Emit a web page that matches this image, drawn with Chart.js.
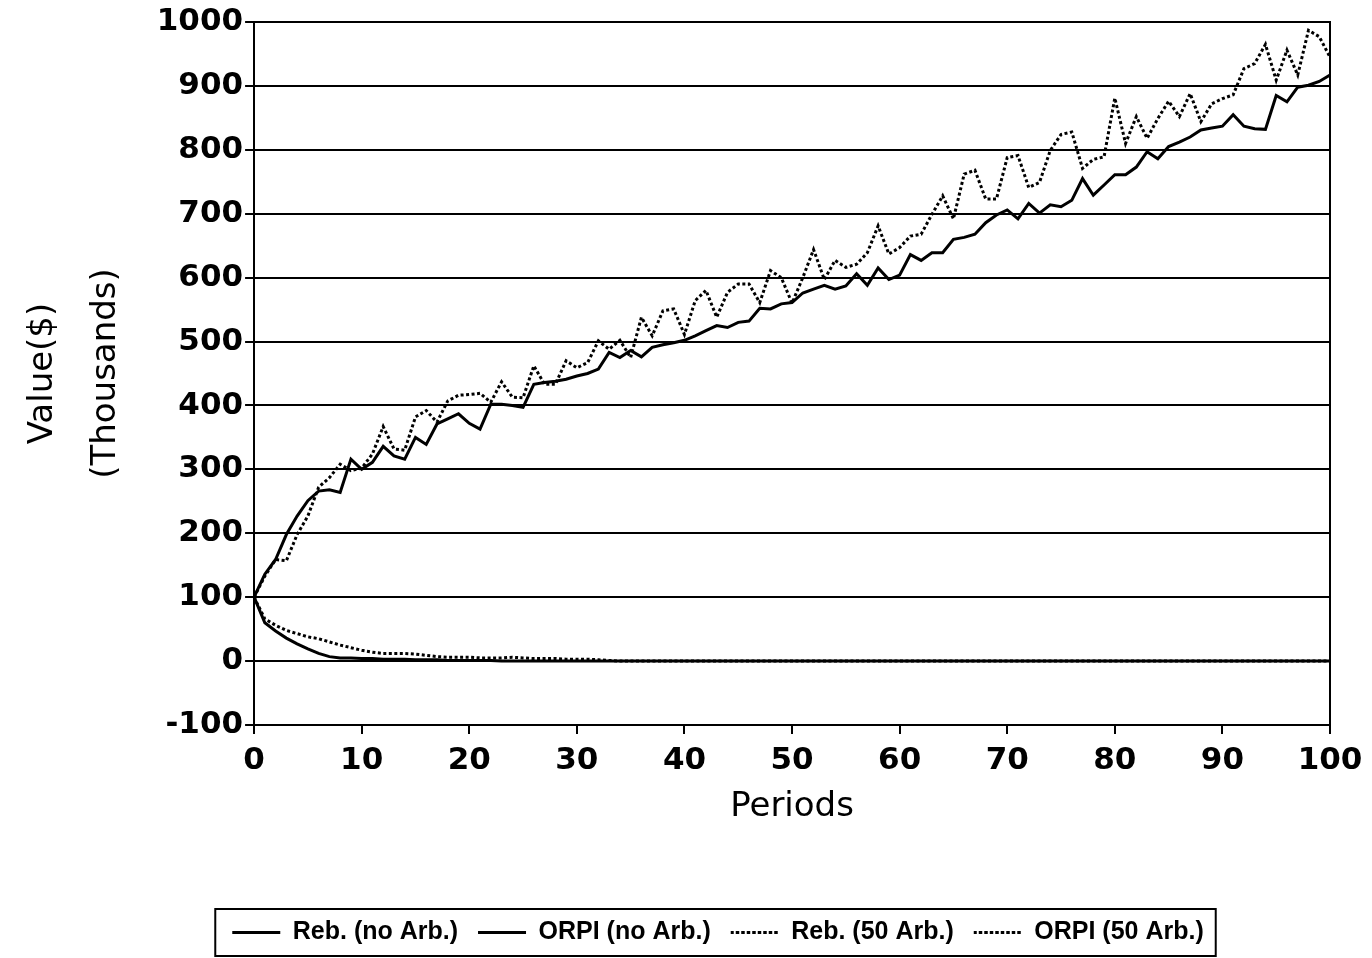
<!DOCTYPE html>
<html>
<head>
<meta charset="utf-8">
<script src="https://cdn.jsdelivr.net/npm/chart.js@4"></script>
<style>
  html, body { margin: 0; padding: 0; background: #fff; }
  #wrap { width: 1372px; height: 958px; }
</style>
</head>
<body>
<div id="wrap"><canvas id="valueChart" width="1372" height="958"></canvas></div>
<script>
// periods on the x axis
const periods = Array.from({ length: 101 }, (_, i) => i);

// portfolio values in thousands of dollars
const rebNoArb = [
  100, 136, 159, 198, 227, 251, 266, 268, 264, 316,
  300, 311, 336, 321, 316, 350, 339, 371, 379, 387,
  372, 363, 402, 402, 400, 397, 433, 436, 438, 441,
  446, 450, 457, 483, 475, 486, 476, 491, 495, 498,
  502, 509, 517, 525, 522, 530, 532, 552, 551, 559,
  561, 576, 582, 588, 582, 587, 606, 588, 615, 597,
  604, 636, 627, 639, 639, 660, 663, 668, 686, 698,
  706, 692, 716, 701, 714, 711, 721, 755, 729, 745,
  761, 761, 773, 797, 786, 805, 812, 820, 831, 834,
  837, 855, 837, 833, 832, 885, 875, 898, 901, 907,
  917
];

const orpiNoArb = [
  100, 60, 47, 36, 27, 19, 12, 7, 5, 5,
  4, 4, 3, 3, 3, 2, 2, 2, 1, 1,
  1, 1, 1, 0, 0, 0, 0, 0, 0, 0,
  0, 0, 0, 0, 0, 0, 0, 0, 0, 0,
  0, 0, 0, 0, 0, 0, 0, 0, 0, 0,
  0, 0, 0, 0, 0, 0, 0, 0, 0, 0,
  0, 0, 0, 0, 0, 0, 0, 0, 0, 0,
  0, 0, 0, 0, 0, 0, 0, 0, 0, 0,
  0, 0, 0, 0, 0, 0, 0, 0, 0, 0,
  0, 0, 0, 0, 0, 0, 0, 0, 0, 0,
  0
];

const reb50Arb = [
  100, 133, 159, 157, 198, 227, 272, 287, 308, 298,
  302, 324, 367, 332, 330, 382, 392, 374, 407, 416,
  417, 419, 405, 437, 413, 412, 462, 433, 433, 470,
  459, 467, 501, 488, 502, 475, 538, 509, 548, 551,
  511, 564, 580, 538, 577, 590, 590, 561, 611, 600,
  560, 600, 644, 597, 627, 616, 621, 639, 681, 637,
  647, 665, 668, 699, 728, 692, 762, 768, 723, 723,
  788, 791, 741, 749, 799, 824, 828, 771, 785, 789,
  881, 810, 852, 818, 849, 876, 852, 888, 844, 872,
  880, 886, 927, 935, 965, 909, 956, 917, 987, 977,
  945
];

const orpi50Arb = [
  100, 66, 56, 48, 43, 38, 35, 30, 25, 21,
  17, 14, 12, 12, 12, 11, 9, 7, 6, 6,
  6, 5, 5, 5, 6, 5, 4, 4, 4, 3,
  3, 3, 2, 1, 0, 0, 0, 0, 0, 0,
  0, 0, 0, 0, 0, 0, 0, 0, 0, 0,
  0, 0, 0, 0, 0, 0, 0, 0, 0, 0,
  0, 0, 0, 0, 0, 0, 0, 0, 0, 0,
  0, 0, 0, 0, 0, 0, 0, 0, 0, 0,
  0, 0, 0, 0, 0, 0, 0, 0, 0, 0,
  0, 0, 0, 0, 0, 0, 0, 0, 0, 0,
  0
];

const yTicks = [-100, 0, 100, 200, 300, 400, 500, 600, 700, 800, 900, 1000];
const xTicks = [0, 10, 20, 30, 40, 50, 60, 70, 80, 90, 100];

const tickFont = { family: 'DejaVu Sans', size: 31, weight: 'bold' };
const titleFont = { family: 'DejaVu Sans', size: 34 };
const legendShift = 47;

function series(label, values, dash) {
  return {
    label: label,
    data: values,
    borderColor: '#000',
    backgroundColor: '#000',
    borderWidth: 3,
    borderDash: dash,
    pointRadius: 0,
    tension: 0,
    fill: false
  };
}

// top and right edges of the plot box
const plotFrame = {
  id: 'plotFrame',
  afterDraw(chart) {
    const { ctx, chartArea: a } = chart;
    ctx.save();
    ctx.strokeStyle = '#000';
    ctx.lineWidth = 2;
    ctx.beginPath();
    ctx.moveTo(a.left, a.top);
    ctx.lineTo(a.right, a.top);
    ctx.lineTo(a.right, a.bottom);
    ctx.stroke();
    ctx.restore();
  }
};

// legend sits a little right of centre, inside a box
const legendBox = {
  id: 'legendBox',
  afterInit(chart) {
    const lg = chart.legend;
    if (!lg) return;
    const draw = lg.draw.bind(lg);
    lg.draw = function () {
      chart.ctx.save();
      chart.ctx.translate(legendShift, 0);
      draw();
      chart.ctx.restore();
    };
  },
  afterDraw(chart) {
    const boxes = chart.legend && chart.legend.legendHitBoxes;
    if (!boxes || !boxes.length) return;
    let l = Infinity, r = -Infinity, t = Infinity, b = -Infinity;
    boxes.forEach(h => {
      l = Math.min(l, h.left); r = Math.max(r, h.left + h.width);
      t = Math.min(t, h.top); b = Math.max(b, h.top + h.height);
    });
    const ctx = chart.ctx;
    ctx.save();
    ctx.strokeStyle = '#000';
    ctx.lineWidth = 2;
    ctx.strokeRect(l - 17 + legendShift, t - 11, (r - l) + 29, (b - t) + 22);
    ctx.restore();
  }
};

new Chart(document.getElementById('valueChart'), {
  type: 'line',
  data: {
    labels: periods,
    datasets: [
      series('Reb. (no Arb.)', rebNoArb, []),
      series('ORPI (no Arb.)', orpiNoArb, []),
      series('Reb. (50 Arb.)', reb50Arb, [3, 2.5]),
      series('ORPI (50 Arb.)', orpi50Arb, [3, 2.5])
    ]
  },
  options: {
    responsive: false,
    devicePixelRatio: 1,
    animation: false,
    layout: { padding: { top: 22, right: 42, bottom: 3, left: 12 } },
    plugins: {
      tooltip: { enabled: false },
      legend: {
        position: 'bottom',
        labels: {
          color: '#000',
          font: { family: 'Liberation Sans', size: 25, weight: 'bold' },
          boxWidth: 48,
          boxHeight: 0,
          padding: 20
        }
      }
    },
    scales: {
      x: {
        type: 'linear',
        min: 0,
        max: 100,
        afterBuildTicks(scale) { scale.ticks = xTicks.map(v => ({ value: v })); },
        ticks: { color: '#000', font: tickFont, maxRotation: 0, padding: 8, callback: v => String(v) },
        grid: { drawOnChartArea: false, drawTicks: true, tickLength: 9, color: '#000', lineWidth: 2 },
        border: { display: true, color: '#000', width: 2 },
        title: { display: true, text: 'Periods', color: '#000', font: titleFont, padding: { top: 0, bottom: 72 } }
      },
      y: {
        min: -100,
        max: 1000,
        afterBuildTicks(scale) { scale.ticks = yTicks.map(v => ({ value: v })); },
        ticks: { color: '#000', font: tickFont, padding: 2, callback: v => String(v) },
        grid: { color: '#000', lineWidth: 2, tickLength: 9 },
        border: { display: true, color: '#000', width: 2 },
        title: {
          display: true,
          text: ['Value($)', '(Thousands)'],
          color: '#000',
          font: { family: 'DejaVu Sans', size: 34, lineHeight: 1.85 },
          padding: { top: 0, bottom: 17 }
        }
      }
    }
  },
  plugins: [plotFrame, legendBox]
});
</script>
</body>
</html>
